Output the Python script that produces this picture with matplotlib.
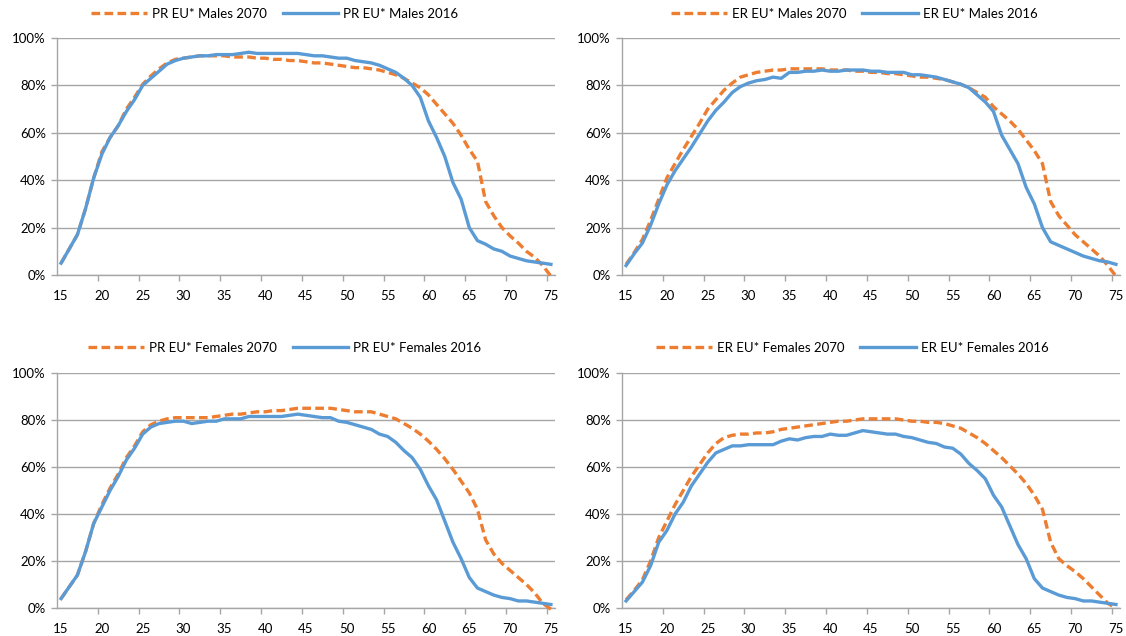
import matplotlib
matplotlib.use('Agg')
import matplotlib.pyplot as plt
from matplotlib.ticker import PercentFormatter, FixedLocator

ages = list(range(15, 76))

# Participation rates, males (%)
pr_males_2070 = [5, 11, 17, 28, 41, 52, 58, 63, 70, 75,
                 80.5, 84, 87, 89.5, 91, 91.5, 92, 92.5, 92.5, 92.5,
                 92.5, 92, 92, 92, 91.5, 91.5, 91, 91, 90.5, 90.5,
                 90, 89.5, 89.5, 89, 88.5, 88, 87.5, 87.5, 87, 86.5,
                 85.5, 84.5, 83, 81, 79, 76, 72, 68, 64, 59,
                 53, 48, 31, 25, 20, 16.5, 13.5, 10, 7.5, 4, -0.5]
pr_males_2016 = [5, 11, 17, 28, 41, 51, 58, 63, 69, 74,
                 80, 83, 86, 89, 90.5, 91.5, 92, 92.5, 92.5, 93,
                 93, 93, 93.5, 94, 93.5, 93.5, 93.5, 93.5, 93.5, 93.5,
                 93, 92.5, 92.5, 92, 91.5, 91.5, 90.5, 90, 89.5, 88.5,
                 87, 85.5, 83, 80, 75, 65, 58, 50, 39, 32,
                 20, 14.5, 13, 11, 10, 8, 7, 6, 5.5, 5, 4.5]

# Employment rates, males (%)
er_males_2070 = [4.5, 9.5, 15, 23, 32, 41, 47, 53, 58.5, 64,
                 70, 74, 78, 81, 83.5, 84.5, 85.5, 86, 86.5, 86.5,
                 87, 87, 87, 87, 87, 86.5, 86.5, 86.5, 86, 86,
                 85.5, 85.5, 85, 85, 84.5, 84, 83.5, 83.5, 83, 82.5,
                 81.5, 80.5, 79, 77, 75, 71, 68, 65, 61.5, 57,
                 52.5, 47, 31, 25, 21, 17, 14, 11, 8, 4, -0.5]
er_males_2016 = [4, 9, 13.5, 21, 30, 38, 44, 49, 54, 59.5,
                 65, 69.5, 73, 77, 79.5, 81, 82, 82.5, 83.5, 83,
                 85.5, 85.5, 86, 86, 86.5, 86, 86, 86.5, 86.5, 86.5,
                 86, 86, 85.5, 85.5, 85.5, 84.5, 84.5, 84, 83.5, 82.5,
                 81.5, 80.5, 79, 76, 73, 69, 59, 53, 47, 37,
                 30, 20, 14, 12.5, 11, 9.5, 8, 7, 6, 5.5, 4.5]

# Participation rates, females (%)
pr_females_2070 = [4, 9, 14, 24, 36, 44, 51, 57, 64, 69,
                   75, 78, 79.5, 80.5, 81, 81, 81, 81, 81, 81.5,
                   82, 82.5, 82.5, 83, 83.5, 83.5, 84, 84, 84.5, 85,
                   85, 85, 85, 85, 84.5, 84, 83.5, 83.5, 83.5, 82.5,
                   81.5, 80.5, 78.5, 76.5, 74, 71, 67.5, 63.5, 59, 54,
                   49, 42, 29, 23, 19, 16, 13, 10, 6.5, 2, -0.5]
pr_females_2016 = [4, 9, 14, 24, 36, 43, 50, 56, 63, 68,
                   74, 77, 78.5, 79, 79.5, 79.5, 78.5, 79, 79.5, 79.5,
                   80.5, 80.5, 80.5, 81.5, 81.5, 81.5, 81.5, 81.5, 82, 82.5,
                   82, 81.5, 81, 81, 79.5, 79, 78, 77, 76, 74,
                   73, 70.5, 67, 64, 59, 52, 46, 37, 28, 21,
                   13, 8.5, 7, 5.5, 4.5, 4, 3, 3, 2.5, 2, 1.5]

# Employment rates, females (%)
er_females_2070 = [3.5, 7.5, 12, 20, 30, 37, 44, 50, 56, 61,
                   66, 70, 72.5, 73.5, 74, 74, 74.5, 74.5, 75, 76,
                   76.5, 77, 77.5, 78, 78.5, 79, 79.5, 79.5, 80, 80.5,
                   80.5, 80.5, 80.5, 80.5, 80, 79.5, 79.5, 79, 79, 78.5,
                   77.5, 76.5, 74.5, 72.5, 70, 67, 64, 60.5, 57, 53,
                   48, 42, 28, 21, 18, 15.5, 12.5, 9, 5.5, 2, 0]
er_females_2016 = [3, 7, 11, 18, 28, 33, 40, 45, 52, 57,
                   62, 66, 67.5, 69, 69, 69.5, 69.5, 69.5, 69.5, 71,
                   72, 71.5, 72.5, 73, 73, 74, 73.5, 73.5, 74.5, 75.5,
                   75, 74.5, 74, 74, 73, 72.5, 71.5, 70.5, 70, 68.5,
                   68, 65.5, 61.5, 58.5, 55, 48, 43, 35, 27, 21,
                   12.5, 8.5, 7, 5.5, 4.5, 4, 3, 3, 2.5, 2, 1.5]

ORANGE = '#ED7D31'
BLUE = '#5B9BD5'
GRID = '#A6A6A6'

plt.rcParams['font.family'] = ['Lato', 'DejaVu Sans']


def draw_panel(fig, rect, s2070, s2016, label2070, label2016, legend_xy):
    ax = fig.add_axes(rect)
    ax.plot(ages, s2070, color=ORANGE, lw=2.4, dashes=(2.6, 1.3),
            label=label2070, clip_on=False, zorder=3)
    ax.plot(ages, s2016, color=BLUE, lw=2.4, label=label2016,
            clip_on=False, zorder=4)

    ax.set_xlim(14.5, 75.5)
    ax.set_ylim(0, 100)
    ax.set_yticks(range(0, 101, 20))
    ax.yaxis.set_major_formatter(PercentFormatter(100, decimals=0))
    ax.set_xticks(range(15, 76, 5))
    # tick marks sit on the category boundaries, labels in the middle
    ax.xaxis.set_minor_locator(FixedLocator([a - 0.5 for a in range(20, 76, 5)]))

    ax.grid(axis='y', color=GRID, lw=1)
    ax.set_axisbelow(True)
    for side in ['top', 'right']:
        ax.spines[side].set_visible(False)
    for side in ['left', 'bottom']:
        ax.spines[side].set_color(GRID)
        ax.spines[side].set_linewidth(1)

    ax.tick_params(axis='x', which='major', length=0, pad=11, labelsize=9.5,
                   colors='black')
    ax.tick_params(axis='x', which='minor', length=4, color=GRID, width=1)
    ax.tick_params(axis='y', length=4, color=GRID, width=1, pad=4,
                   labelsize=9.5)

    ax.legend(loc='center', bbox_to_anchor=legend_xy,
              bbox_transform=fig.transFigure, ncol=2, frameon=False,
              fontsize=9.5, handlelength=4.2, handletextpad=0.4,
              columnspacing=1.2, borderaxespad=0)
    return ax


def main():
    fig = plt.figure(figsize=(11.26, 6.36), dpi=100)

    draw_panel(fig, [0.0506, 0.5676, 0.4423, 0.3726],
               pr_males_2070, pr_males_2016,
               'PR EU* Males 2070', 'PR EU* Males 2016', (0.244, 0.978))
    draw_panel(fig, [0.5524, 0.5676, 0.4423, 0.3726],
               er_males_2070, er_males_2016,
               'ER EU* Males 2070', 'ER EU* Males 2016', (0.759, 0.978))
    draw_panel(fig, [0.0506, 0.0440, 0.4423, 0.3695],
               pr_females_2070, pr_females_2016,
               'PR EU* Females 2070', 'PR EU* Females 2016', (0.253, 0.453))
    draw_panel(fig, [0.5524, 0.0440, 0.4423, 0.3695],
               er_females_2070, er_females_2016,
               'ER EU* Females 2070', 'ER EU* Females 2016', (0.757, 0.453))

    fig.savefig('out.png', dpi=100)


if __name__ == '__main__':
    main()
